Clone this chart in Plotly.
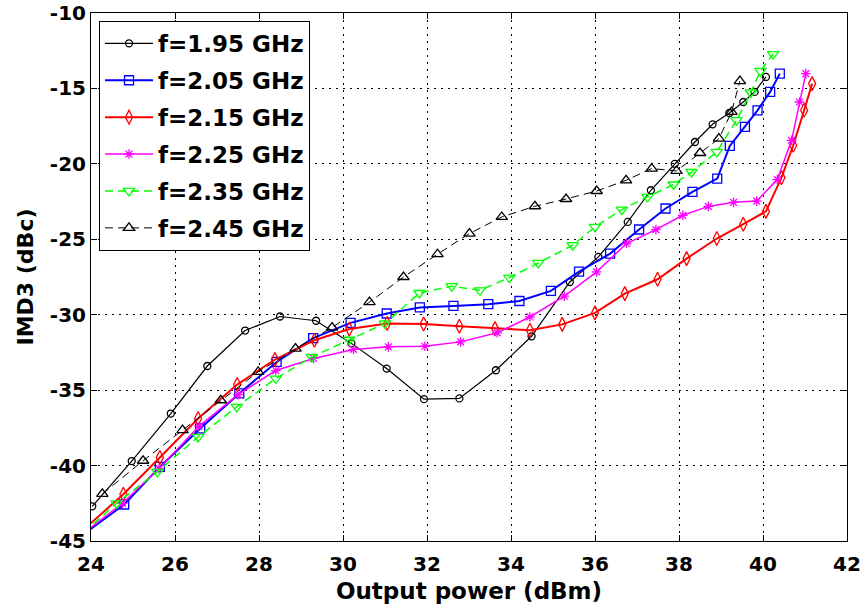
import plotly.graph_objects as go

# ---------------- data ----------------
names = ["f=1.95 GHz", "f=2.05 GHz", "f=2.15 GHz", "f=2.25 GHz", "f=2.35 GHz", "f=2.45 GHz"]

x_195 = [24.03, 24.97, 25.90, 26.77, 27.67, 28.50, 29.36, 30.20, 31.04, 31.93, 32.77, 33.64,
         34.49, 35.40, 36.08, 36.78, 37.33, 37.90, 38.38, 38.80, 39.20, 39.53, 39.80, 40.07]
y_195 = [-42.7, -39.7, -36.55, -33.4, -31.05, -30.12, -30.4, -31.9, -33.57, -35.6, -35.55, -33.68,
         -31.43, -27.83, -26.17, -23.85, -21.75, -20.0, -18.55, -17.38, -16.63, -15.9, -15.23, -14.24]

x_205 = [23.6, 24.79, 25.64, 26.60, 27.53, 28.42, 29.29, 30.18, 31.04, 31.83, 32.63, 33.46, 34.20,
         34.95, 35.62, 36.36, 37.05, 37.68, 38.32, 38.91, 39.21, 39.57, 39.87, 40.17, 40.40]
y_205 = [-45.0, -42.58, -40.09, -37.54, -35.22, -33.13, -31.55, -30.54, -29.92, -29.52, -29.42, -29.3, -29.09,
         -28.42, -27.15, -25.95, -24.35, -22.96, -21.86, -20.98, -18.81, -17.55, -16.45, -15.23, -14.02]

x_215 = [23.6, 24.77, 25.64, 26.55, 27.48, 28.38, 29.32, 30.15, 31.05, 31.92, 32.77, 33.62, 34.45,
         35.22, 36.00, 36.71, 37.49, 38.18, 38.90, 39.53, 40.07, 40.44, 40.72, 40.98, 41.17]
y_215 = [-44.8, -41.9, -39.47, -36.88, -34.63, -32.97, -31.69, -30.95, -30.58, -30.62, -30.76, -30.92, -31.03,
         -30.64, -29.88, -28.6, -27.65, -26.28, -24.95, -24.0, -23.15, -20.91, -18.77, -16.45, -14.68]

x_225 = [23.6, 24.75, 25.62, 26.57, 27.50, 28.40, 29.30, 30.25, 31.08, 31.95, 32.80, 33.67, 34.45,
         35.27, 36.04, 36.75, 37.45, 38.09, 38.70, 39.30, 39.85, 40.34, 40.68, 40.87, 41.02]
y_225 = [-44.95, -42.5, -40.2, -37.4, -35.3, -33.7, -32.9, -32.3, -32.13, -32.09, -31.8, -31.2, -30.15,
         -28.77, -27.16, -25.28, -24.36, -23.41, -22.82, -22.55, -22.47, -21.04, -18.44, -15.9, -14.02]

x_235 = [23.6, 24.61, 25.58, 26.55, 27.47, 28.40, 29.26, 30.15, 31.00, 31.82, 32.59, 33.26, 33.96,
         34.65, 35.47, 36.00, 36.64, 37.25, 37.87, 38.30, 38.90, 39.37, 39.71, 39.94, 40.24]
y_235 = [-45.0, -42.5, -40.42, -38.1, -36.11, -34.23, -32.8, -31.66, -30.58, -28.56, -28.11, -28.38, -27.54,
         -26.57, -25.39, -24.18, -23.03, -22.19, -21.37, -20.54, -19.21, -17.1, -15.27, -13.84, -12.72]

x_245 = [24.27, 25.24, 26.18, 27.09, 27.98, 28.87, 29.74, 30.63, 31.44, 32.25, 33.01, 33.78, 34.57,
         35.31, 36.04, 36.74, 37.35, 37.94, 38.50, 38.95, 39.25, 39.45]
y_245 = [-41.88, -39.68, -37.65, -35.67, -33.79, -32.25, -30.85, -29.17, -27.5, -25.99, -24.62, -23.52, -22.81,
         -22.33, -21.8, -21.09, -20.31, -20.47, -19.28, -18.33, -16.56, -14.52]

x_ticks = [24, 26, 28, 30, 32, 34, 36, 38, 40, 42]
y_ticks = [-45, -40, -35, -30, -25, -20, -15, -10]

# ---------------- styles ----------------
series = [
    (x_195, y_195, "#000000", "circle-open", 7, 1.2, "solid"),
    (x_205, y_205, "#0000FF", "square-open", 9, 2.0, "solid"),
    (x_215, y_215, "#FF0000", "diamond-tall-open", 10, 2.0, "solid"),
    (x_225, y_225, "#FF00FF", "asterisk-open", 8, 1.5, "solid"),
    (x_235, y_235, "#00FF00", "triangle-down-open", 10, 1.5, "8px,5px"),
    (x_245, y_245, "#000000", "triangle-up-open", 10, 1.0, "8px,5px"),
]

FONT = "DejaVu Sans"

fig = go.Figure()
for i, (xs, ys, col, sym, msz, lw, dash) in enumerate(series):
    fig.add_trace(go.Scatter(
        x=xs, y=ys, name=names[i], mode="lines+markers",
        legendgroup=f"g{i}",
        line=dict(color=col, width=lw, dash=dash),
        marker=dict(symbol=sym, size=msz, color=col,
                    line=dict(color=col, width=1.3)),
        cliponaxis=True,
    ))

axis_common = dict(
    showline=True, linecolor="black", linewidth=1, mirror="ticks",
    ticks="inside", ticklen=6, tickwidth=1, tickcolor="black",
    showgrid=True, gridcolor="black", gridwidth=1, griddash="2px,5px",
    zeroline=False,
    tickfont=dict(family=FONT, size=20, color="black", weight="bold"),
)

fig.update_layout(
    width=865, height=611,
    margin=dict(l=91, r=18, t=13, b=70, autoexpand=False),
    paper_bgcolor="white", plot_bgcolor="white",
    font=dict(family=FONT, color="black"),
    xaxis=dict(range=[24, 42], tickvals=x_ticks, ticktext=[str(v) for v in x_ticks],
               ticklabelstandoff=5,
               title=dict(text="Output power (dBm)", standoff=7,
                          font=dict(family=FONT, size=23, color="black", weight="bold")),
               **axis_common),
    yaxis=dict(range=[-45, -10], tickvals=y_ticks, ticktext=[str(v) for v in y_ticks],
               title=dict(text="IMD3 (dBc)", standoff=10,
                          font=dict(family=FONT, size=22, color="black", weight="bold")),
               **axis_common),
    legend=dict(
        x=0.0106, y=0.985, xanchor="left", yanchor="top",
        bgcolor="white", bordercolor="black", borderwidth=1,
        font=dict(family=FONT, size=23, color="black", weight="bold"),
        tracegroupgap=4, itemwidth=48,
    ),
    showlegend=True,
)

fig.write_html("out.html")
